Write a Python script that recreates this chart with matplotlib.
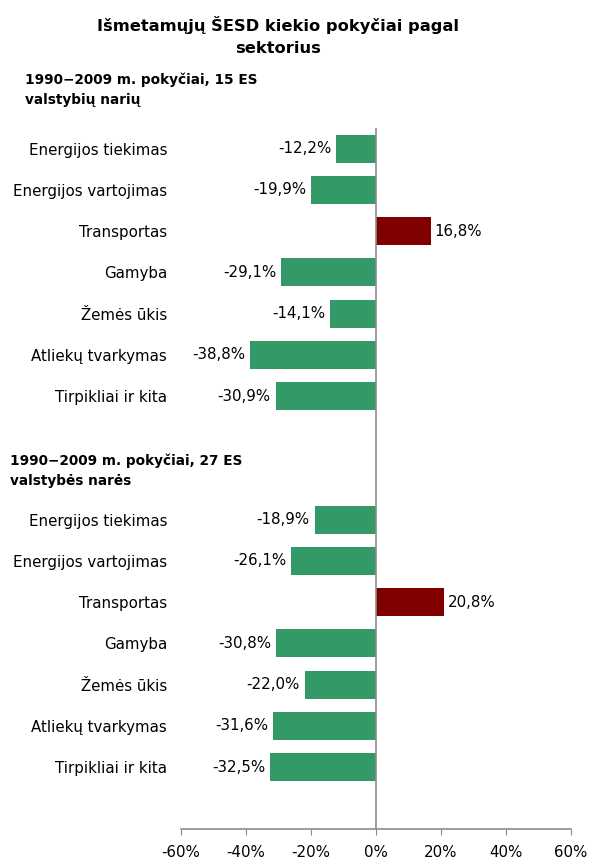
import numpy as np
import matplotlib.pyplot as plt

# sector names (same for both groups)
sectors = ['Energijos tiekimas', 'Energijos vartojimas', 'Transportas', 'Gamyba',
           'Žemės ūkis', 'Atliekų tvarkymas', 'Tirpikliai ir kita']
# percent change 1990-2009
eu15 = [-12.2, -19.9, 16.8, -29.1, -14.1, -38.8, -30.9]
eu27 = [-18.9, -26.1, 20.8, -30.8, -22.0, -31.6, -32.5]

title = 'Išmetamųjų ŠESD kiekio pokyčiai pagal\nsektorius'
head15 = '1990\u22122009 m. pokyčiai, 15 ES\nvalstybių narių'
head27 = '1990\u22122009 m. pokyčiai, 27 ES\nvalstybės narės'
xticks = [-60, -40, -20, 0, 20, 40, 60]

green = '#339966'
red = '#800000'
axcol = '#8c8c8c'
fs = 10.8

plt.rcParams['font.family'] = ['DejaVu Sans']

fig = plt.figure(figsize=(5.89, 8.59), dpi=100)
ax = fig.add_axes([181/589, 1-829/859, 390/589, 701/859])

# rows: group 1 at 0..6, two empty rows, group 2 at 9..15, one empty row
y15 = np.arange(len(sectors))
y27 = np.arange(len(sectors)) + 9
vals = eu15 + eu27
ys = list(y15) + list(y27)
cols = [red if v > 0 else green for v in vals]
ax.barh(ys, vals, height=0.68, color=cols, zorder=2)

for y, v in zip(ys, vals):
    txt = ('%.1f%%' % v).replace('.', ',')
    if v < 0:
        ax.annotate(txt, (v, y), xytext=(-3.5, 0), textcoords='offset points',
                    ha='right', va='center', fontsize=fs)
    else:
        ax.annotate(txt, (v, y), xytext=(3, 0), textcoords='offset points',
                    ha='left', va='center', fontsize=fs)

ax.set_yticks(ys)
ax.set_yticklabels(sectors + sectors, fontsize=fs)
ax.tick_params(axis='y', length=0, pad=10)

ax.set_xlim(-60, 60)
ax.set_ylim(16.5, -0.5)
ax.set_xticks(xticks)
ax.set_xticklabels(['%d%%' % t for t in xticks], fontsize=fs)
ax.tick_params(axis='x', direction='out', length=4.5, color=axcol, pad=7)

ax.axvline(0, color=axcol, lw=1.2, zorder=3)
for s in ['top', 'right', 'left']:
    ax.spines[s].set_visible(False)
ax.spines['bottom'].set_color(axcol)
ax.spines['bottom'].set_linewidth(1.2)

fig.text(278/589, 1-36/859, title, ha='center', va='center', fontsize=11.7,
         fontweight='bold', linespacing=1.55)
fig.text(25/589, 1-90/859, head15, ha='left', va='center', fontsize=9.8,
         fontweight='bold', linespacing=1.55)
fig.text(10/589, 1-471/859, head27, ha='left', va='center', fontsize=9.8,
         fontweight='bold', linespacing=1.55)

fig.savefig('out.png', dpi=100)
